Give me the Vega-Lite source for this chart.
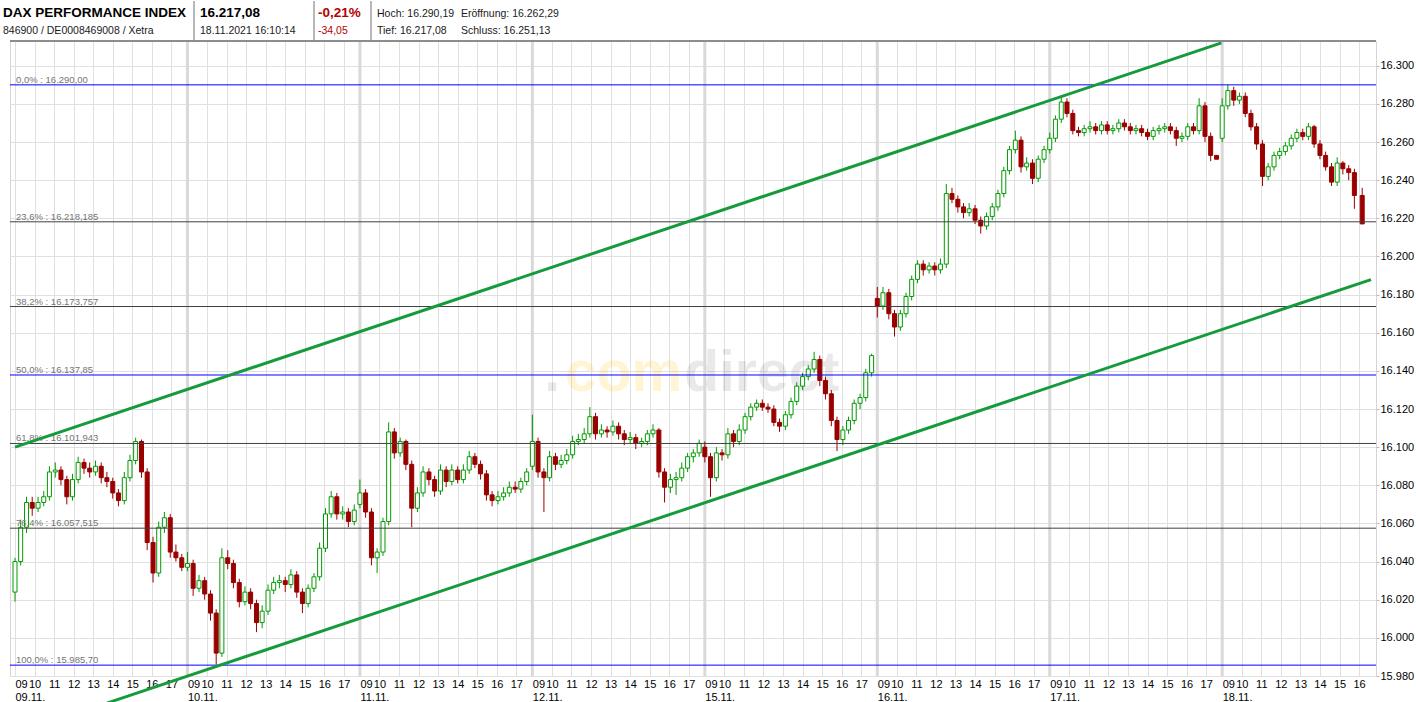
{
  "$schema": "https://vega.github.io/schema/vega-lite/v6.json",
  "padding": {"left": 3, "top": 0, "right": 0, "bottom": 0},
  "background": "white",
  "bounds": "flush",
  "spacing": 0,
  "config": {"font": "Liberation Sans", "view": {"stroke": null}},
  "datasets": {
    "header": [
      {"col": 0, "line": 1, "text": "DAX PERFORMANCE INDEX"},
      {"col": 0, "line": 2, "text": "846900 / DE0008469008 / Xetra"},
      {"col": 2, "line": 1, "text": "16.217,08"},
      {"col": 2, "line": 2, "text": "18.11.2021 16:10:14"},
      {"col": 4, "line": 1, "text": "-0,21%"},
      {"col": 4, "line": 2, "text": "-34,05"},
      {"col": 6, "line": 1, "text": "Hoch: 16.290,19"},
      {"col": 7, "line": 1, "text": "Eröffnung: 16.262,29"},
      {"col": 6, "line": 2, "text": "Tief: 16.217,08"},
      {"col": 7, "line": 2, "text": "Schluss: 16.251,13"}
    ],
    "seps": [{"col": 1}, {"col": 3}, {"col": 5}],
    "days": [{"t": 8.82}, {"t": 17.64}, {"t": 26.46}, {"t": 35.28}, {"t": 44.1}, {"t": 52.92}, {"t": 61.74}],
    "fib": [
      {"pct": 0, "p": 16290, "label": "0,0% : 16.290,00"},
      {"pct": 23.6, "p": 16218.185, "label": "23,6% : 16.218,185"},
      {"pct": 38.2, "p": 16173.757, "label": "38,2% : 16.173,757"},
      {"pct": 50, "p": 16137.85, "label": "50,0% : 16.137,85"},
      {"pct": 61.8, "p": 16101.943, "label": "61,8% : 16.101,943"},
      {"pct": 76.4, "p": 16057.515, "label": "76,4% : 16.057,515"},
      {"pct": 100, "p": 15985.7, "label": "100,0% : 15.985,70"}
    ],
    "trend": [
      {"line": "upper", "t": 0, "p": 16100},
      {"line": "upper", "t": 61.7, "p": 16312},
      {"line": "lower", "t": 4.7, "p": 15965.8},
      {"line": "lower", "t": 69.35, "p": 16187.9}
    ],
    "brand": [
      {"part": "dot", "t": 34.12, "p": 16129.5, "text": "."},
      {"part": "com", "t": 34.12, "p": 16129.5, "text": "com"},
      {"part": "direct", "t": 34.12, "p": 16129.5, "text": "direct"}
    ],
    "candles": [
      {"t":0,"o":16024,"h":16042,"l":16019,"c":16040},
      {"t":0.29,"o":16040,"h":16062,"l":16038,"c":16058},
      {"t":0.59,"o":16058,"h":16074,"l":16055,"c":16071},
      {"t":0.88,"o":16071,"h":16074,"l":16064,"c":16068},
      {"t":1.18,"o":16068,"h":16074,"l":16066,"c":16071},
      {"t":1.47,"o":16071,"h":16077,"l":16069,"c":16074},
      {"t":1.76,"o":16074,"h":16090,"l":16072,"c":16087},
      {"t":2.06,"o":16087,"h":16092,"l":16084,"c":16088},
      {"t":2.35,"o":16088,"h":16090,"l":16080,"c":16083},
      {"t":2.65,"o":16083,"h":16085,"l":16070,"c":16074},
      {"t":2.94,"o":16074,"h":16086,"l":16072,"c":16083},
      {"t":3.23,"o":16083,"h":16095,"l":16081,"c":16092},
      {"t":3.53,"o":16092,"h":16094,"l":16086,"c":16089},
      {"t":3.82,"o":16089,"h":16092,"l":16084,"c":16087},
      {"t":4.12,"o":16087,"h":16093,"l":16085,"c":16090},
      {"t":4.41,"o":16090,"h":16092,"l":16081,"c":16084},
      {"t":4.7,"o":16084,"h":16087,"l":16079,"c":16082},
      {"t":5,"o":16082,"h":16084,"l":16073,"c":16076},
      {"t":5.29,"o":16076,"h":16078,"l":16069,"c":16072},
      {"t":5.59,"o":16072,"h":16087,"l":16070,"c":16084},
      {"t":5.88,"o":16084,"h":16096,"l":16082,"c":16093},
      {"t":6.17,"o":16093,"h":16105,"l":16091,"c":16103},
      {"t":6.47,"o":16103,"h":16104,"l":16084,"c":16087},
      {"t":6.76,"o":16087,"h":16089,"l":16046,"c":16050},
      {"t":7.06,"o":16050,"h":16053,"l":16029,"c":16034},
      {"t":7.35,"o":16034,"h":16061,"l":16032,"c":16058},
      {"t":7.64,"o":16058,"h":16066,"l":16055,"c":16063},
      {"t":7.94,"o":16063,"h":16065,"l":16042,"c":16045},
      {"t":8.23,"o":16045,"h":16049,"l":16040,"c":16042},
      {"t":8.53,"o":16042,"h":16044,"l":16035,"c":16037},

      {"t":8.82,"o":16037,"h":16045,"l":16035,"c":16039},
      {"t":9.11,"o":16039,"h":16041,"l":16022,"c":16026},
      {"t":9.41,"o":16026,"h":16033,"l":16024,"c":16030},
      {"t":9.7,"o":16030,"h":16032,"l":16020,"c":16023},
      {"t":10,"o":16023,"h":16025,"l":16009,"c":16013},
      {"t":10.29,"o":16013,"h":16015,"l":15986,"c":15992},
      {"t":10.58,"o":15992,"h":16047,"l":15990,"c":16042},
      {"t":10.88,"o":16042,"h":16046,"l":16036,"c":16039},
      {"t":11.17,"o":16039,"h":16041,"l":16026,"c":16029},
      {"t":11.47,"o":16029,"h":16031,"l":16016,"c":16019},
      {"t":11.76,"o":16019,"h":16027,"l":16017,"c":16024},
      {"t":12.05,"o":16024,"h":16026,"l":16015,"c":16018},
      {"t":12.35,"o":16018,"h":16020,"l":16003,"c":16008},
      {"t":12.64,"o":16008,"h":16017,"l":16005,"c":16014},
      {"t":12.94,"o":16014,"h":16028,"l":16012,"c":16025},
      {"t":13.23,"o":16025,"h":16032,"l":16023,"c":16029},
      {"t":13.52,"o":16029,"h":16033,"l":16026,"c":16030},
      {"t":13.82,"o":16030,"h":16032,"l":16024,"c":16028},
      {"t":14.11,"o":16028,"h":16036,"l":16026,"c":16033},
      {"t":14.41,"o":16033,"h":16035,"l":16021,"c":16024},
      {"t":14.7,"o":16024,"h":16026,"l":16013,"c":16018},
      {"t":14.99,"o":16018,"h":16028,"l":16016,"c":16026},
      {"t":15.29,"o":16026,"h":16034,"l":16024,"c":16032},
      {"t":15.58,"o":16032,"h":16050,"l":16030,"c":16047},
      {"t":15.88,"o":16047,"h":16068,"l":16045,"c":16065},
      {"t":16.17,"o":16065,"h":16077,"l":16063,"c":16074},
      {"t":16.46,"o":16074,"h":16076,"l":16062,"c":16065},
      {"t":16.76,"o":16065,"h":16069,"l":16062,"c":16066},
      {"t":17.05,"o":16066,"h":16068,"l":16058,"c":16061},
      {"t":17.35,"o":16061,"h":16070,"l":16059,"c":16067},

      {"t":17.64,"o":16070,"h":16083,"l":16068,"c":16076},
      {"t":17.93,"o":16076,"h":16078,"l":16063,"c":16066},
      {"t":18.23,"o":16066,"h":16068,"l":16038,"c":16042},
      {"t":18.52,"o":16042,"h":16047,"l":16034,"c":16045},
      {"t":18.82,"o":16045,"h":16063,"l":16043,"c":16061},
      {"t":19.11,"o":16061,"h":16113,"l":16059,"c":16108},
      {"t":19.4,"o":16108,"h":16110,"l":16094,"c":16097},
      {"t":19.7,"o":16097,"h":16105,"l":16095,"c":16103},
      {"t":19.99,"o":16103,"h":16104,"l":16088,"c":16091},
      {"t":20.29,"o":16091,"h":16093,"l":16058,"c":16068},
      {"t":20.58,"o":16068,"h":16079,"l":16066,"c":16076},
      {"t":20.87,"o":16076,"h":16090,"l":16074,"c":16087},
      {"t":21.17,"o":16087,"h":16089,"l":16080,"c":16083},
      {"t":21.46,"o":16083,"h":16085,"l":16074,"c":16077},
      {"t":21.76,"o":16077,"h":16091,"l":16075,"c":16088},
      {"t":22.05,"o":16088,"h":16090,"l":16079,"c":16082},
      {"t":22.34,"o":16082,"h":16091,"l":16080,"c":16088},
      {"t":22.64,"o":16088,"h":16090,"l":16081,"c":16083},
      {"t":22.93,"o":16083,"h":16091,"l":16081,"c":16088},
      {"t":23.23,"o":16088,"h":16098,"l":16086,"c":16095},
      {"t":23.52,"o":16095,"h":16097,"l":16089,"c":16091},
      {"t":23.81,"o":16091,"h":16093,"l":16083,"c":16086},
      {"t":24.11,"o":16086,"h":16088,"l":16072,"c":16075},
      {"t":24.4,"o":16075,"h":16077,"l":16069,"c":16072},
      {"t":24.7,"o":16072,"h":16077,"l":16070,"c":16074},
      {"t":24.99,"o":16074,"h":16079,"l":16072,"c":16076},
      {"t":25.28,"o":16076,"h":16082,"l":16074,"c":16079},
      {"t":25.58,"o":16079,"h":16082,"l":16076,"c":16078},
      {"t":25.87,"o":16078,"h":16084,"l":16076,"c":16082},
      {"t":26.17,"o":16082,"h":16089,"l":16080,"c":16087},

      {"t":26.46,"o":16090,"h":16117,"l":16088,"c":16103},
      {"t":26.75,"o":16103,"h":16105,"l":16084,"c":16087},
      {"t":27.05,"o":16087,"h":16089,"l":16066,"c":16084},
      {"t":27.34,"o":16084,"h":16098,"l":16082,"c":16095},
      {"t":27.64,"o":16095,"h":16097,"l":16088,"c":16091},
      {"t":27.93,"o":16091,"h":16096,"l":16089,"c":16093},
      {"t":28.22,"o":16093,"h":16099,"l":16091,"c":16096},
      {"t":28.52,"o":16096,"h":16106,"l":16094,"c":16103},
      {"t":28.81,"o":16103,"h":16107,"l":16101,"c":16104},
      {"t":29.11,"o":16104,"h":16110,"l":16102,"c":16107},
      {"t":29.4,"o":16107,"h":16121,"l":16105,"c":16116},
      {"t":29.69,"o":16116,"h":16118,"l":16104,"c":16107},
      {"t":29.99,"o":16107,"h":16112,"l":16105,"c":16109},
      {"t":30.28,"o":16109,"h":16111,"l":16105,"c":16108},
      {"t":30.58,"o":16108,"h":16114,"l":16106,"c":16111},
      {"t":30.87,"o":16111,"h":16113,"l":16104,"c":16107},
      {"t":31.16,"o":16107,"h":16109,"l":16101,"c":16104},
      {"t":31.46,"o":16104,"h":16108,"l":16102,"c":16105},
      {"t":31.75,"o":16105,"h":16107,"l":16099,"c":16102},
      {"t":32.05,"o":16102,"h":16105,"l":16100,"c":16103},
      {"t":32.34,"o":16103,"h":16109,"l":16101,"c":16107},
      {"t":32.63,"o":16107,"h":16112,"l":16105,"c":16109},
      {"t":32.93,"o":16109,"h":16110,"l":16084,"c":16087},
      {"t":33.22,"o":16087,"h":16089,"l":16071,"c":16079},
      {"t":33.52,"o":16079,"h":16086,"l":16076,"c":16083},
      {"t":33.81,"o":16083,"h":16087,"l":16075,"c":16084},
      {"t":34.1,"o":16084,"h":16092,"l":16082,"c":16089},
      {"t":34.4,"o":16089,"h":16097,"l":16087,"c":16095},
      {"t":34.69,"o":16095,"h":16099,"l":16092,"c":16097},
      {"t":34.99,"o":16097,"h":16104,"l":16095,"c":16102},

      {"t":35.28,"o":16100,"h":16103,"l":16092,"c":16095},
      {"t":35.57,"o":16095,"h":16097,"l":16074,"c":16084},
      {"t":35.87,"o":16084,"h":16100,"l":16082,"c":16097},
      {"t":36.16,"o":16097,"h":16099,"l":16093,"c":16096},
      {"t":36.46,"o":16096,"h":16110,"l":16094,"c":16107},
      {"t":36.75,"o":16107,"h":16109,"l":16100,"c":16103},
      {"t":37.04,"o":16103,"h":16112,"l":16101,"c":16109},
      {"t":37.34,"o":16109,"h":16118,"l":16107,"c":16116},
      {"t":37.63,"o":16116,"h":16123,"l":16114,"c":16121},
      {"t":37.93,"o":16121,"h":16125,"l":16119,"c":16123},
      {"t":38.22,"o":16123,"h":16125,"l":16119,"c":16121},
      {"t":38.51,"o":16121,"h":16123,"l":16118,"c":16120},
      {"t":38.81,"o":16120,"h":16122,"l":16111,"c":16113},
      {"t":39.1,"o":16113,"h":16115,"l":16108,"c":16111},
      {"t":39.4,"o":16111,"h":16119,"l":16109,"c":16117},
      {"t":39.69,"o":16117,"h":16126,"l":16115,"c":16124},
      {"t":39.98,"o":16124,"h":16134,"l":16122,"c":16132},
      {"t":40.28,"o":16132,"h":16139,"l":16130,"c":16137},
      {"t":40.57,"o":16137,"h":16143,"l":16135,"c":16141},
      {"t":40.87,"o":16141,"h":16150,"l":16139,"c":16146},
      {"t":41.16,"o":16146,"h":16148,"l":16132,"c":16135},
      {"t":41.45,"o":16135,"h":16137,"l":16125,"c":16128},
      {"t":41.75,"o":16128,"h":16130,"l":16111,"c":16114},
      {"t":42.04,"o":16114,"h":16116,"l":16098,"c":16104},
      {"t":42.34,"o":16104,"h":16111,"l":16101,"c":16109},
      {"t":42.63,"o":16109,"h":16116,"l":16107,"c":16114},
      {"t":42.92,"o":16114,"h":16125,"l":16112,"c":16123},
      {"t":43.22,"o":16123,"h":16128,"l":16120,"c":16126},
      {"t":43.51,"o":16126,"h":16141,"l":16124,"c":16139},
      {"t":43.81,"o":16139,"h":16149,"l":16137,"c":16148},

      {"t":44.1,"o":16178,"h":16184,"l":16168,"c":16174},
      {"t":44.39,"o":16174,"h":16184,"l":16172,"c":16181},
      {"t":44.69,"o":16181,"h":16183,"l":16167,"c":16170},
      {"t":44.98,"o":16170,"h":16172,"l":16158,"c":16163},
      {"t":45.28,"o":16163,"h":16172,"l":16161,"c":16170},
      {"t":45.57,"o":16170,"h":16181,"l":16168,"c":16179},
      {"t":45.86,"o":16179,"h":16190,"l":16177,"c":16188},
      {"t":46.16,"o":16188,"h":16198,"l":16186,"c":16196},
      {"t":46.45,"o":16196,"h":16198,"l":16190,"c":16193},
      {"t":46.75,"o":16193,"h":16197,"l":16191,"c":16195},
      {"t":47.04,"o":16195,"h":16197,"l":16190,"c":16193},
      {"t":47.33,"o":16193,"h":16199,"l":16191,"c":16196},
      {"t":47.63,"o":16196,"h":16238,"l":16194,"c":16233},
      {"t":47.92,"o":16233,"h":16236,"l":16228,"c":16230},
      {"t":48.22,"o":16230,"h":16232,"l":16223,"c":16226},
      {"t":48.51,"o":16226,"h":16228,"l":16220,"c":16223},
      {"t":48.8,"o":16223,"h":16228,"l":16221,"c":16225},
      {"t":49.1,"o":16225,"h":16227,"l":16217,"c":16219},
      {"t":49.39,"o":16219,"h":16221,"l":16212,"c":16216},
      {"t":49.69,"o":16216,"h":16223,"l":16214,"c":16221},
      {"t":49.98,"o":16221,"h":16228,"l":16219,"c":16226},
      {"t":50.27,"o":16226,"h":16235,"l":16224,"c":16233},
      {"t":50.57,"o":16233,"h":16247,"l":16231,"c":16245},
      {"t":50.86,"o":16245,"h":16258,"l":16243,"c":16256},
      {"t":51.16,"o":16256,"h":16266,"l":16254,"c":16261},
      {"t":51.45,"o":16261,"h":16263,"l":16244,"c":16247},
      {"t":51.74,"o":16247,"h":16252,"l":16245,"c":16249},
      {"t":52.04,"o":16249,"h":16251,"l":16238,"c":16241},
      {"t":52.33,"o":16241,"h":16253,"l":16239,"c":16251},
      {"t":52.63,"o":16251,"h":16258,"l":16249,"c":16256},

      {"t":52.92,"o":16256,"h":16265,"l":16254,"c":16262},
      {"t":53.21,"o":16262,"h":16274,"l":16260,"c":16272},
      {"t":53.51,"o":16272,"h":16284,"l":16270,"c":16281},
      {"t":53.8,"o":16281,"h":16283,"l":16273,"c":16275},
      {"t":54.1,"o":16275,"h":16277,"l":16264,"c":16266},
      {"t":54.39,"o":16266,"h":16268,"l":16263,"c":16265},
      {"t":54.68,"o":16265,"h":16269,"l":16263,"c":16267},
      {"t":54.98,"o":16267,"h":16271,"l":16265,"c":16268},
      {"t":55.27,"o":16268,"h":16270,"l":16264,"c":16266},
      {"t":55.57,"o":16266,"h":16271,"l":16264,"c":16269},
      {"t":55.86,"o":16269,"h":16271,"l":16264,"c":16266},
      {"t":56.15,"o":16266,"h":16269,"l":16264,"c":16267},
      {"t":56.45,"o":16267,"h":16272,"l":16265,"c":16270},
      {"t":56.74,"o":16270,"h":16272,"l":16266,"c":16268},
      {"t":57.04,"o":16268,"h":16270,"l":16264,"c":16266},
      {"t":57.33,"o":16266,"h":16269,"l":16264,"c":16267},
      {"t":57.62,"o":16267,"h":16269,"l":16263,"c":16265},
      {"t":57.92,"o":16265,"h":16267,"l":16261,"c":16263},
      {"t":58.21,"o":16263,"h":16268,"l":16261,"c":16266},
      {"t":58.51,"o":16266,"h":16269,"l":16264,"c":16267},
      {"t":58.8,"o":16267,"h":16270,"l":16265,"c":16268},
      {"t":59.09,"o":16268,"h":16270,"l":16264,"c":16266},
      {"t":59.39,"o":16266,"h":16268,"l":16258,"c":16262},
      {"t":59.68,"o":16262,"h":16265,"l":16260,"c":16263},
      {"t":59.98,"o":16263,"h":16270,"l":16261,"c":16268},
      {"t":60.27,"o":16268,"h":16270,"l":16264,"c":16266},
      {"t":60.56,"o":16266,"h":16283,"l":16264,"c":16279},
      {"t":60.86,"o":16279,"h":16281,"l":16260,"c":16263},
      {"t":61.15,"o":16263,"h":16265,"l":16250,"c":16253},
      {"t":61.45,"o":16253,"h":16253,"l":16251,"c":16251},

      {"t":61.74,"o":16262,"h":16283,"l":16260,"c":16279},
      {"t":62.03,"o":16279,"h":16290,"l":16277,"c":16287},
      {"t":62.33,"o":16287,"h":16289,"l":16279,"c":16282},
      {"t":62.62,"o":16282,"h":16286,"l":16280,"c":16284},
      {"t":62.92,"o":16284,"h":16286,"l":16273,"c":16275},
      {"t":63.21,"o":16275,"h":16277,"l":16266,"c":16268},
      {"t":63.5,"o":16268,"h":16270,"l":16256,"c":16259},
      {"t":63.8,"o":16259,"h":16261,"l":16237,"c":16242},
      {"t":64.09,"o":16242,"h":16249,"l":16240,"c":16247},
      {"t":64.39,"o":16247,"h":16255,"l":16245,"c":16253},
      {"t":64.68,"o":16253,"h":16257,"l":16251,"c":16255},
      {"t":64.97,"o":16255,"h":16260,"l":16253,"c":16258},
      {"t":65.27,"o":16258,"h":16264,"l":16256,"c":16262},
      {"t":65.56,"o":16262,"h":16267,"l":16260,"c":16265},
      {"t":65.86,"o":16265,"h":16267,"l":16261,"c":16263},
      {"t":66.15,"o":16263,"h":16270,"l":16261,"c":16268},
      {"t":66.44,"o":16268,"h":16269,"l":16257,"c":16259},
      {"t":66.74,"o":16259,"h":16261,"l":16251,"c":16253},
      {"t":67.03,"o":16253,"h":16255,"l":16245,"c":16247},
      {"t":67.33,"o":16247,"h":16249,"l":16237,"c":16239},
      {"t":67.62,"o":16239,"h":16252,"l":16237,"c":16249},
      {"t":67.91,"o":16249,"h":16250,"l":16243,"c":16246},
      {"t":68.21,"o":16246,"h":16248,"l":16240,"c":16244},
      {"t":68.5,"o":16244,"h":16246,"l":16225,"c":16232},
      {"t":68.9,"o":16232,"h":16236,"l":16217,"c":16217.08}
    ]
  },
  "vconcat": [
    {
      "width": 1366,
      "height": 40,
      "layer": [
        {
          "data": {"name": "seps"},
          "mark": {"type": "rule", "color": "#a0a0a0", "strokeWidth": 1.5},
          "encoding": {
            "x": {"field": "col", "type": "quantitative", "axis": null,
                  "scale": {"domain": [0, 1, 2, 3, 4, 5, 6, 7], "range": [-7, 184, 190, 304, 308, 361, 367, 451]}}
          }
        },
        {
          "data": {"name": "header"},
          "transform": [{"filter": "datum.line == 1 && datum.col < 5"}],
          "mark": {"type": "text", "align": "left", "baseline": "alphabetic", "fontSize": 13.5, "fontWeight": "bold"},
          "encoding": {
            "x": {"field": "col", "type": "quantitative", "axis": null,
                  "scale": {"domain": [0, 1, 2, 3, 4, 5, 6, 7], "range": [-7, 184, 190, 304, 308, 361, 367, 451]}},
            "y": {"field": "line", "type": "quantitative", "axis": null, "scale": {"domain": [1, 2], "range": [16, 33]}},
            "text": {"field": "text"},
            "color": {"condition": {"test": "datum.col == 4", "value": "#b50000"}, "value": "#000000"}
          }
        },
        {
          "data": {"name": "header"},
          "transform": [{"filter": "!(datum.line == 1 && datum.col < 5)"}],
          "mark": {"type": "text", "align": "left", "baseline": "alphabetic", "fontSize": 10.5},
          "encoding": {
            "x": {"field": "col", "type": "quantitative", "axis": null,
                  "scale": {"domain": [0, 1, 2, 3, 4, 5, 6, 7], "range": [-7, 184, 190, 304, 308, 361, 367, 451]}},
            "y": {"field": "line", "type": "quantitative", "axis": null, "scale": {"domain": [1, 2], "range": [16, 33]}},
            "text": {"field": "text"},
            "color": {"condition": {"test": "datum.col == 4", "value": "#b50000"}, "value": "#1a1a1a"}
          }
        }
      ]
    },
    {
      "width": 1366,
      "height": 635,
      "view": {"stroke": "#d4d4d4"},
      "layer": [
        {
          "data": {"name": "brand"},
          "transform": [{"filter": "datum.part == 'direct'"}],
          "mark": {"type": "text", "align": "left", "baseline": "alphabetic", "fontSize": 57, "fontWeight": "bold", "dx": 2, "color": "rgba(0,0,0,0.085)"},
          "encoding": {
            "x": {"field": "t", "type": "quantitative",
                  "scale": {"domain": [0, 69.35], "nice": false, "zero": false},
                  "axis": {
                    "title": null,
                    "tickCount": 500,
                    "values": [0,1,2,3,4,5,6,7,8, 8.82,9.82,10.82,11.82,12.82,13.82,14.82,15.82,16.82, 17.64,18.64,19.64,20.64,21.64,22.64,23.64,24.64,25.64, 26.46,27.46,28.46,29.46,30.46,31.46,32.46,33.46,34.46, 35.28,36.28,37.28,38.28,39.28,40.28,41.28,42.28,43.28, 44.1,45.1,46.1,47.1,48.1,49.1,50.1,51.1,52.1, 52.92,53.92,54.92,55.92,56.92,57.92,58.92,59.92,60.92, 61.74,62.74,63.74,64.74,65.74,66.74,67.74,68.74],
                    "labelExpr": "(datum.value - floor(datum.value/8.82+0.001)*8.82) < 0.05 ? ['09', ['09.11.','10.11.','11.11.','12.11.','15.11.','16.11.','17.11.','18.11.'][floor(datum.value/8.82+0.001)]] : '' + (9 + round(datum.value - floor(datum.value/8.82+0.001)*8.82))",
                    "labelAlign": {"condition": {"test": "(datum.value - floor(datum.value/8.82+0.001)*8.82) < 0.05", "value": "left"}, "value": "center"},
                    "labelBaseline": "top",
                    "labelLineHeight": 13,
                    "labelPadding": 2,
                    "labelFontSize": 11,
                    "labelFont": "Liberation Sans",
                    "labelColor": "#000000",
                    "labelOverlap": false,
                    "labelFlush": false,
                    "labelBound": false,
                    "ticks": false,
                    "domain": false,
                    "grid": true,
                    "gridColor": "#e0e0e0",
                    "gridWidth": 1
                  }},
            "y": {"field": "p", "type": "quantitative",
                  "scale": {"domain": [15980, 16313], "nice": false, "zero": false},
                  "axis": {
                    "title": null,
                    "orient": "right",
                    "tickCount": 500,
                    "values": [15980,16000,16020,16040,16060,16080,16100,16120,16140,16160,16180,16200,16220,16240,16260,16280,16300],
                    "labelExpr": "replace(format(datum.value, ','), ',', '.')",
                    "labelFontSize": 11,
                    "labelFont": "Liberation Sans",
                    "labelColor": "#000000",
                    "labelPadding": 1,
                    "labelFlush": false,
                    "labelOverlap": false,
                    "ticks": true,
                    "tickSize": 3,
                    "tickColor": "#bbbbbb",
                    "domain": false,
                    "grid": true,
                    "gridColor": "#e0e0e0"
                  }},
            "text": {"field": "text"}
          }
        },
        {
          "data": {"name": "brand"},
          "transform": [{"filter": "datum.part == 'com'"}],
          "mark": {"type": "text", "align": "right", "baseline": "alphabetic", "fontSize": 57, "fontWeight": "bold", "color": "rgba(255,190,0,0.17)"},
          "encoding": {
            "x": {"field": "t", "type": "quantitative"},
            "y": {"field": "p", "type": "quantitative"},
            "text": {"field": "text"}
          }
        },
        {
          "data": {"name": "brand"},
          "transform": [{"filter": "datum.part == 'dot'"}],
          "mark": {"type": "text", "align": "right", "baseline": "alphabetic", "fontSize": 57, "fontWeight": "bold", "dx": -122, "color": "rgba(0,0,0,0.085)"},
          "encoding": {
            "x": {"field": "t", "type": "quantitative"},
            "y": {"field": "p", "type": "quantitative"},
            "text": {"field": "text"}
          }
        },
        {
          "data": {"name": "days"},
          "mark": {"type": "rule", "color": "#d9d9d9", "strokeWidth": 3},
          "encoding": {"x": {"field": "t", "type": "quantitative"}}
        },
        {
          "data": {"name": "candles"},
          "mark": {"type": "rule", "strokeWidth": 1},
          "encoding": {
            "x": {"field": "t", "type": "quantitative"},
            "y": {"field": "l", "type": "quantitative"},
            "y2": {"field": "h"},
            "color": {"condition": {"test": "datum.c >= datum.o", "value": "#009a00"}, "value": "#9a0000"}
          }
        },
        {
          "data": {"name": "candles"},
          "mark": {"type": "bar", "width": 4, "strokeWidth": 1},
          "encoding": {
            "x": {"field": "t", "type": "quantitative"},
            "y": {"field": "o", "type": "quantitative"},
            "y2": {"field": "c"},
            "fill": {"condition": {"test": "datum.c >= datum.o", "value": "#ffffff"}, "value": "#9a0000"},
            "stroke": {"condition": {"test": "datum.c >= datum.o", "value": "#009a00"}, "value": "#9a0000"}
          }
        },
        {
          "data": {"name": "fib"},
          "mark": {"type": "rule", "strokeWidth": 1},
          "encoding": {
            "y": {"field": "p", "type": "quantitative"},
            "color": {"condition": {"test": "datum.pct == 0 || datum.pct == 50 || datum.pct == 100", "value": "#0000ff"}, "value": "#404040"}
          }
        },
        {
          "data": {"name": "fib"},
          "mark": {"type": "text", "align": "left", "baseline": "alphabetic", "dx": 1, "dy": -2, "fontSize": 9.5, "color": "#767676"},
          "encoding": {
            "x": {"datum": 0, "type": "quantitative"},
            "y": {"field": "p", "type": "quantitative"},
            "text": {"field": "label"}
          }
        },
        {
          "data": {"name": "trend"},
          "mark": {"type": "line", "color": "#169b3c", "strokeWidth": 3},
          "encoding": {
            "x": {"field": "t", "type": "quantitative"},
            "y": {"field": "p", "type": "quantitative"},
            "detail": {"field": "line"}
          }
        },
        {
          "data": {"name": "fib"},
          "mark": {"type": "rule", "color": "#8c8c8c", "strokeWidth": 1.5},
          "encoding": {"y": {"datum": 16313, "type": "quantitative"}}
        }
      ]
    }
  ]
}
